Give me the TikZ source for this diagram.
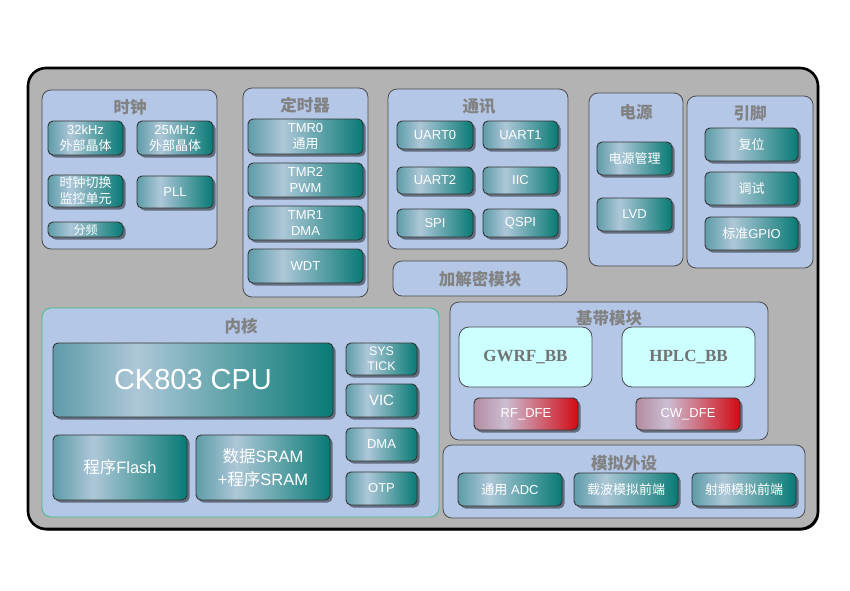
\documentclass[tikz,border=0pt]{standalone}
\usepackage{fontspec}
\setmainfont{Liberation Sans}
\newfontfamily\cjk{Noto Sans CJK SC}
\newfontfamily\tms{Liberation Serif}
\usetikzlibrary{shadows}
\definecolor{outerfill}{HTML}{B3B3B3}
\definecolor{grpfill}{HTML}{B4C7E7}
\definecolor{grpline}{HTML}{4A4A4A}
\definecolor{ttl}{HTML}{828282}
\definecolor{tA}{HTML}{5E9CA8}
\definecolor{tB}{HTML}{ADC7D8}
\definecolor{tC}{HTML}{087A74}
\definecolor{rA}{HTML}{B38CA0}
\definecolor{rB}{HTML}{CBBDD3}
\definecolor{rC}{HTML}{D20A14}
\definecolor{cyanbox}{HTML}{CCFFFF}
\definecolor{coregreen}{HTML}{3DBE85}
\pgfdeclarehorizontalshading{tealgrad}{100bp}{color(0bp)=(tA); color(25bp)=(tA); color(40bp)=(tB); color(75bp)=(tC); color(100bp)=(tC)}
\pgfdeclarehorizontalshading{redgrad}{100bp}{color(0bp)=(rA); color(25bp)=(rA); color(40bp)=(rB); color(75bp)=(rC); color(100bp)=(rC)}
\newcommand\bx[7]{\node[#2, minimum width={(#5-#3)*1pt}, minimum height={(#6-#4)*1pt}] (#1) at ({(#3+#5)/2},{(#4+#6)/2}) {#7};}
\tikzset{
  outerbox/.style={draw=black, line width=2.6pt, fill=outerfill, rounded corners=18pt, inner sep=0pt,
    drop shadow={shadow xshift=1.2pt, shadow yshift=-1.5pt, fill=black, opacity=0.9}},
  grp/.style={draw=grpline, fill=grpfill, rounded corners=9pt, line width=0.8pt, inner sep=0pt},
  coregrp/.style={grp, draw=coregreen},
  ttlstyle/.style={text=ttl, font=\cjk\bfseries\fontsize{16.5}{20}\selectfont, inner sep=0pt},
  comp/.style={draw=black!80, line width=0.9pt, rounded corners=5pt, shading=tealgrad, text=white,
    align=center, inner sep=0pt, font=\fontsize{13}{16}\selectfont,
    drop shadow={shadow xshift=2.5pt, shadow yshift=-2.5pt, fill=black, opacity=0.45}},
  redcomp/.style={comp, shading=redgrad},
  bbbox/.style={draw=grpline, fill=cyanbox, rounded corners=10pt, line width=0.8pt, inner sep=0pt,
    text=black!55, font=\tms\bfseries\fontsize{17}{20}\selectfont},
}
\begin{document}
\begin{tikzpicture}[x=1pt,y=-1pt]
\useasboundingbox (0,0) rectangle (850,590);
\bx{outer}{outerbox}{28}{68}{818}{529}{}
% groups
\bx{gclk}{grp}{42}{90}{217}{249}{}
\bx{gtmr}{grp}{243}{88}{368}{297}{}
\bx{gcom}{grp}{388}{89}{568}{249}{}
\bx{gcry}{grp}{393}{261}{567}{296}{}
\bx{gpwr}{grp}{589}{93}{683}{266}{}
\bx{gpin}{grp}{687}{96}{813}{268}{}
\bx{gcore}{coregrp}{42}{308}{439}{517}{}
\bx{gbb}{grp}{450}{302}{768}{440}{}
\bx{gana}{grp}{443}{445}{805}{518}{}
% titles
\node[ttlstyle] (tclk) at (130,107) {时钟};
\node[ttlstyle] (ttmr) at (305,105) {定时器};
\node[ttlstyle] (tcom) at (479,107) {通讯};
\node[ttlstyle] (tcry) at (480,279) {加解密模块};
\node[ttlstyle] (tpwr) at (636,112) {电源};
\node[ttlstyle] (tpin) at (750,113) {引脚};
\node[ttlstyle] (tcore) at (241,326) {内核};
\node[ttlstyle] (tana) at (624,463) {模拟外设};
% clock
\bx{c32k}{comp}{48}{121}{123}{155}{32kHz\\{\cjk 外部晶体}}
\bx{c25m}{comp}{137}{121}{213}{155}{25MHz\\{\cjk 外部晶体}}
\bx{csw}{comp}{48}{175}{123}{207}{{\cjk 时钟切换}\\{\cjk 监控单元}}
\bx{cpll}{comp}{137}{176}{213}{208}{PLL}
\bx{cdiv}{comp, font=\cjk\fontsize{12}{14}\selectfont}{48}{222}{123}{237}{分频}
% timers
\bx{tmr0}{comp}{248}{119}{363}{154}{TMR0\\{\cjk 通用}}
\bx{tmr2}{comp}{248}{163}{363}{197}{TMR2\\PWM}
\bx{tmr1}{comp}{248}{206}{363}{240}{TMR1\\DMA}
\bx{wdt}{comp}{248}{249}{363}{283}{WDT}
% comm
\bx{uart0}{comp}{397}{121}{473}{149}{UART0}
\bx{uart1}{comp}{483}{121}{558}{149}{UART1}
\bx{uart2}{comp}{397}{167}{473}{194}{UART2}
\bx{iic}{comp}{483}{167}{558}{194}{IIC}
\bx{spi}{comp}{397}{209}{473}{237}{SPI}
\bx{qspi}{comp}{483}{209}{558}{237}{QSPI}
% power
\bx{pm}{comp}{597}{142}{672}{175}{{\cjk 电源管理}}
\bx{lvd}{comp}{597}{198}{672}{231}{LVD}
% pins
\bx{rst}{comp}{705}{128}{798}{161}{{\cjk 复位}}
\bx{dbg}{comp}{705}{172}{798}{205}{{\cjk 调试}}
\bx{gpio}{comp}{705}{217}{798}{250}{{\cjk 标准}GPIO}
% core
\bx{cpu}{comp, font=\fontsize{29}{34}\selectfont}{53}{343}{333}{417}{CK803 CPU}
\bx{flash}{comp, font=\fontsize{16.5}{23}\selectfont}{53}{435}{187}{500}{{\cjk 程序}Flash}
\bx{sram}{comp, font=\fontsize{16.5}{23}\selectfont}{196}{435}{330}{500}{{\cjk 数据}SRAM\\+{\cjk 程序}SRAM}
\bx{systick}{comp, font=\fontsize{12.5}{15}\selectfont}{346}{343}{417}{375}{SYS\\TICK}
\bx{vic}{comp, font=\fontsize{15}{18}\selectfont}{346}{384}{417}{417}{VIC}
\bx{dma}{comp}{346}{428}{417}{461}{DMA}
\bx{otp}{comp}{346}{472}{417}{505}{OTP}
% baseband
\bx{gwrf}{bbbox}{459}{327}{592}{387}{GWRF\_BB}
\bx{hplc}{bbbox}{622}{327}{755}{387}{HPLC\_BB}
\bx{rfdfe}{redcomp}{474}{398}{578}{430}{RF\_DFE}
\bx{cwdfe}{redcomp}{636}{398}{740}{430}{CW\_DFE}
\node[ttlstyle] (tbb) at (609,318) {基带模块};
% analog
\bx{adc}{comp}{458}{473}{562}{506}{{\cjk 通用} ADC}
\bx{cafe}{comp}{574}{473}{678}{506}{{\cjk 载波模拟前端}}
\bx{rafe}{comp}{692}{473}{796}{506}{{\cjk 射频模拟前端}}
\end{tikzpicture}
\end{document}
